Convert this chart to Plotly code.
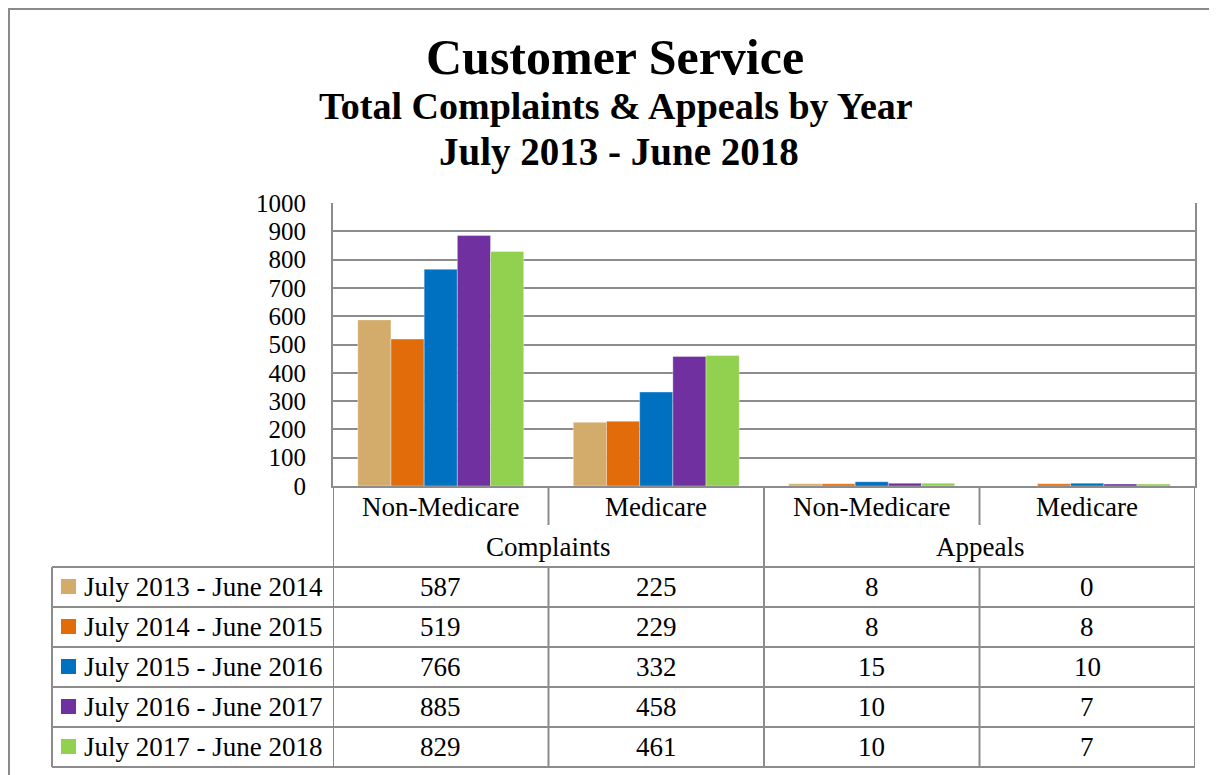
import plotly.graph_objects as go

# data
categories = ["Non-Medicare", "Medicare", "Non-Medicare", "Medicare"]
groups = ["Complaints", "Appeals"]
periods = [
    "July 2013 - June 2014",
    "July 2014 - June 2015",
    "July 2015 - June 2016",
    "July 2016 - June 2017",
    "July 2017 - June 2018",
]
fy2014 = [587, 225, 8, 0]
fy2015 = [519, 229, 8, 8]
fy2016 = [766, 332, 15, 10]
fy2017 = [885, 458, 10, 7]
fy2018 = [829, 461, 10, 7]
series = [fy2014, fy2015, fy2016, fy2017, fy2018]
colors = ["#D3AC6C", "#E36C0A", "#0070C0", "#7030A0", "#92D050"]
yticks = [0, 100, 200, 300, 400, 500, 600, 700, 800, 900, 1000]

# page body has an 8px margin, so the figure is shifted by that much
OFF = 8
W, H = 1217 - OFF, 775 - OFF
FONT = "Liberation Serif"
GRID = "#8C8C8C"


def px(x):
    return (x - OFF) / W


def py(y):
    return 1 - (y - OFF) / H


xs = list(range(len(categories)))

fig = go.Figure()
for name, vals, col in zip(periods, series, colors):
    fig.add_trace(go.Bar(x=xs, y=vals, name=name,
                         marker=dict(color=col, line=dict(width=0.6, color="rgba(255,255,255,0.6)"))))

shapes = []
ann = []

# titles
ann.append(dict(text="<b>Customer Service</b>", x=px(615), y=py(57), font=dict(size=50)))
ann.append(dict(text="<b>Total Complaints & Appeals by Year</b>", x=px(616), y=py(106), font=dict(size=38)))
ann.append(dict(text="<b>July 2013 - June 2018</b>", x=px(619), y=py(152), font=dict(size=39)))
for a in ann:
    a.update(xref="paper", yref="paper", showarrow=False, xanchor="center", yanchor="middle")

row_top = 567
row_h = 40
tsize = 27
# sub category labels + group labels
for i, c in enumerate(categories):
    ann.append(dict(text=c, x=i, xref="x", y=py(507), yref="paper", showarrow=False,
                    yanchor="middle", font=dict(size=tsize)))
for g, gx in zip(groups, [0.5, 2.5]):
    ann.append(dict(text=g, x=gx, xref="x", y=py(547), yref="paper", showarrow=False,
                    yanchor="middle", font=dict(size=tsize)))
# data table
for r, (name, vals, col) in enumerate(zip(periods, series, colors)):
    cy = row_top + row_h * (r + 0.5)
    ann.append(dict(text=name, x=px(82), xref="paper", xanchor="left", y=py(cy), yref="paper",
                    yanchor="middle", showarrow=False, font=dict(size=tsize)))
    shapes.append(dict(type="rect", xref="paper", yref="paper", x0=px(61), x1=px(76),
                       y0=py(cy - 8), y1=py(cy + 7), fillcolor=col, line=dict(width=0)))
    for i, v in enumerate(vals):
        ann.append(dict(text=str(v), x=i, xref="x", y=py(cy), yref="paper", showarrow=False,
                        yanchor="middle", font=dict(size=tsize)))

line = dict(color=GRID, width=2)
# horizontal table lines
for k in range(len(periods) + 1):
    yy = py(row_top + row_h * k)
    shapes.append(dict(type="line", xref="paper", yref="paper", x0=px(52), x1=px(1195),
                       y0=yy, y1=yy, line=line))
# vertical table lines
bottom = py(row_top + row_h * len(periods))
for b in [-0.5, 1.5, 3.5]:
    shapes.append(dict(type="line", xref="x", yref="paper", x0=b, x1=b, y0=py(486), y1=bottom, line=line))
for b in [0.5, 2.5]:
    shapes.append(dict(type="line", xref="x", yref="paper", x0=b, x1=b, y0=py(486), y1=py(525), line=line))
    shapes.append(dict(type="line", xref="x", yref="paper", x0=b, x1=b, y0=py(row_top), y1=bottom, line=line))
shapes.append(dict(type="line", xref="paper", yref="paper", x0=px(52), x1=px(52),
                   y0=py(row_top), y1=bottom, line=line))
# outer chart frame (top and left edges)
shapes.append(dict(type="line", xref="paper", yref="paper", x0=px(8), x1=1, y0=py(9), y1=py(9),
                   line=dict(color="#8A8A8A", width=2)))
shapes.append(dict(type="line", xref="paper", yref="paper", x0=px(9), x1=px(9), y0=py(8), y1=0,
                   line=dict(color="#8A8A8A", width=2)))

fig.update_layout(
    width=W, height=H,
    margin=dict(l=0, r=0, t=0, b=0, autoexpand=False),
    paper_bgcolor="white", plot_bgcolor="white",
    font=dict(family=FONT, color="black", size=tsize),
    barmode="group", bargap=0.23, bargroupgap=0,
    showlegend=False,
    shapes=shapes, annotations=ann,
    xaxis=dict(domain=[px(333), px(1195)], range=[-0.5, 3.5], showticklabels=False,
               showgrid=False, zeroline=False, showline=True, linecolor=GRID, linewidth=2,
               fixedrange=True, automargin=False),
    yaxis=dict(domain=[py(486), py(203)], range=[0, 1000], tickvals=yticks,
               showgrid=True, gridcolor=GRID, gridwidth=2, zeroline=False,
               showline=True, mirror=True, linecolor=GRID, linewidth=2,
               ticks="", ticklabelstandoff=20, tickfont=dict(size=25), fixedrange=True,
               automargin=False),
)

fig.write_html("out.html")
